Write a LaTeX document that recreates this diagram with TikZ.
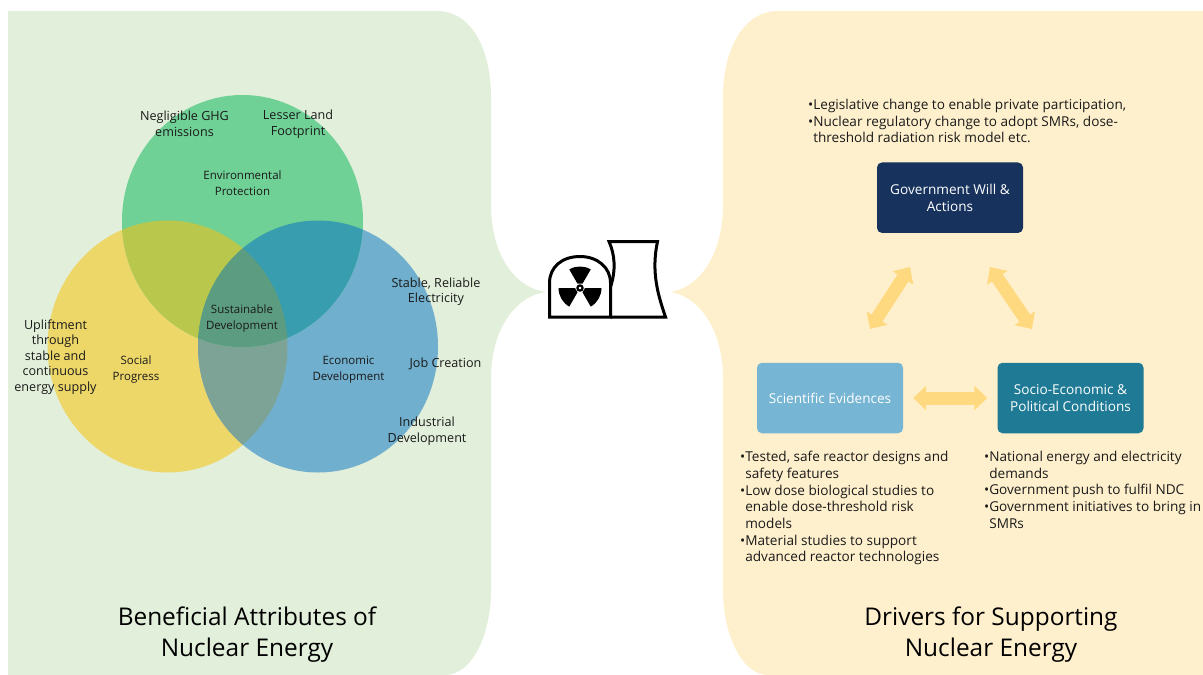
\documentclass[tikz,border=0pt]{standalone}
\usepackage{fontspec}
\setmainfont{Open Sans}
\usepackage{tikz}
\usetikzlibrary{arrows.meta}
\definecolor{panelgreen}{HTML}{E2EFDA}
\definecolor{panelyellow}{HTML}{FFF0CD}
\definecolor{vennG}{HTML}{70D196}
\definecolor{vennY}{HTML}{EED769}
\definecolor{vennB}{HTML}{71AFCE}
\definecolor{vennGY}{HTML}{B9C84C}
\definecolor{vennGB}{HTML}{389DAE}
\definecolor{vennYB}{HTML}{7DA396}
\definecolor{vennGYB}{HTML}{5C9C80}
\definecolor{boxgov}{HTML}{17325C}
\definecolor{boxsci}{HTML}{76B5D3}
\definecolor{boxsoc}{HTML}{1F7A96}
\definecolor{arrowfill}{HTML}{FFD97F}
\definecolor{inktext}{HTML}{1A1A1A}
\tikzset{
	vennlabel/.style={align=center,text=inktext,inner sep=0pt,font=\fontsize{11.5}{16}\selectfont},
	outerlabel/.style={align=center,text=inktext,inner sep=0pt,font=\fontsize{12.6}{15.5}\selectfont},
	drivernote/.style={align=left,anchor=north west,text=inktext,inner sep=0pt,font=\fontsize{13.6}{16.7}\selectfont},
	paneltitle/.style={align=center,text=black,inner sep=0pt,font=\fontsize{24.4}{31}\selectfont},
	driverbox/.style={rounded corners=5pt,minimum width=146pt,minimum height=70.5pt,align=center,inner sep=0pt,
		text=white,font=\fontsize{13.6}{16.6}\selectfont},
	dblarrow/.style={{Triangle[width=24pt,length=13pt]}-{Triangle[width=24pt,length=13pt]},
		line width=13pt,draw=arrowfill},
}
\newcommand{\bulletpad}{\phantom{•}}
\begin{document}
\begin{tikzpicture}[x=1pt,y=-1pt]
\useasboundingbox (0,0) rectangle (1203,675);
\fill[panelgreen] (8,11) -- (437,11) .. controls (472,11) and (491,50) .. (491,97) -- (491,205)
	.. controls (491,255) and (515,288) .. (546,292)
	.. controls (515,296) and (491,330) .. (491,378) -- (491,590)
	.. controls (491,635) and (472,675) .. (445,675) -- (8,675) -- cycle;
\fill[panelyellow] (1203,11) -- (778,11) .. controls (743,11) and (723,50) .. (723,97) -- (723,205)
	.. controls (723,255) and (699,288) .. (670,292)
	.. controls (699,296) and (723,330) .. (723,378) -- (723,590)
	.. controls (723,635) and (742,675) .. (768,675) -- (1203,675) -- cycle;
% venn
\fill[vennY] (167.5,346.5) ellipse (120 and 126);
\fill[vennB] (318,346.5) ellipse (120 and 126);
\begin{scope}
	\clip (167.5,346.5) ellipse (120 and 126);
	\fill[vennYB] (318,346.5) ellipse (120 and 126);
\end{scope}
\fill[vennG] (242.5,221) ellipse (120.5 and 126);
\begin{scope}
	\clip (242.5,221) ellipse (120.5 and 126);
	\fill[vennGY] (167.5,346.5) ellipse (120 and 126);
	\fill[vennGB] (318,346.5) ellipse (120 and 126);
	\clip (167.5,346.5) ellipse (120 and 126);
	\fill[vennGYB] (318,346.5) ellipse (120 and 126);
\end{scope}
\node[outerlabel] (ghg) at (184.5,124) {Negligible GHG\\emissions};
\node[outerlabel] (land) at (298,124) {Lesser Land\\Footprint};
\node[vennlabel] (env) at (242.5,183) {Environmental\\Protection};
\node[vennlabel] (sust) at (242,318.5) {Sustainable\\Development};
\node[vennlabel] (social) at (136,369.5) {Social\\Progress};
\node[vennlabel] (econ) at (348.5,369.5) {Economic\\Development};
\node[outerlabel] (uplift) at (55.5,357) {Upliftment\\through\\stable and\\continuous\\energy supply};
\node[outerlabel] (stable) at (436,291.5) {Stable, Reliable\\Electricity};
\node[outerlabel] (job) at (445.5,364) {Job Creation};
\node[outerlabel] (indus) at (427,431) {Industrial\\Development};
\node[paneltitle] (titleL) at (247,635) {Beneficial Attributes of\\Nuclear Energy};
\node[paneltitle] (titleR) at (991,635) {Drivers for Supporting\\Nuclear Energy};
% plant icon
\draw[line width=3pt,line join=miter,fill=white] (549.5,317) -- (549.5,283)
	.. controls (549.5,267) and (562,256.5) .. (580,256.5)
	.. controls (597,256.5) and (610.5,267) .. (610.5,283) -- (610.5,317) -- cycle;
\draw[line width=3pt,line join=miter] (610.5,317) -- (665.5,317)
	.. controls (658,295) and (651,272) .. (657.5,241.5) -- (609,241.5)
	.. controls (615,255) and (616,270) .. (610.5,287);
\foreach \a in {90,210,330}
{
	\fill ({580+5*cos(\a-30)},{288-5*sin(\a-30)}) -- ({580+21.5*cos(\a-30)},{288-21.5*sin(\a-30)})
		arc[start angle=-(\a-30),end angle=-(\a+30),radius=21.5] -- ({580+5*cos(\a+30)},{288-5*sin(\a+30)}) -- cycle;
}
\draw[line width=2.2pt] (580,288) circle (2.6);
% drivers
\node[driverbox,fill=boxgov] (gov) at (950,197.7) {Government Will \&\\Actions};
\node[driverbox,fill=boxsci] (sci) at (830,398) {Scientific Evidences};
\node[driverbox,fill=boxsoc] (soc) at (1070.5,398) {Socio-Economic \&\\Political Conditions};
\coordinate (govL) at (910,267);
\coordinate (sciT) at (870,329);
\coordinate (govR) at (990,267);
\coordinate (socT) at (1032,329);
\draw[dblarrow] (govL) -- (sciT);
\draw[dblarrow] (govR) -- (socT);
\draw[dblarrow,shorten <=10pt,shorten >=10pt] (sci) -- (soc);
\node[drivernote] (noteG) at (808,99) {•Legislative change to enable private participation,\\
	•Nuclear regulatory change to adopt SMRs, dose-\\\bulletpad threshold radiation risk model etc.};
\node[drivernote] (noteS) at (740,451) {•Tested, safe reactor designs and\\\bulletpad safety features\\
	•Low dose biological studies to\\\bulletpad enable dose-threshold risk\\\bulletpad models\\
	•Material studies to support\\\bulletpad advanced reactor technologies};
\node[drivernote] (noteE) at (984,451) {•National energy and electricity\\\bulletpad demands\\
	•Government push to fulfil NDC\\•Government initiatives to bring in\\\bulletpad SMRs};
\end{tikzpicture}
\end{document}
